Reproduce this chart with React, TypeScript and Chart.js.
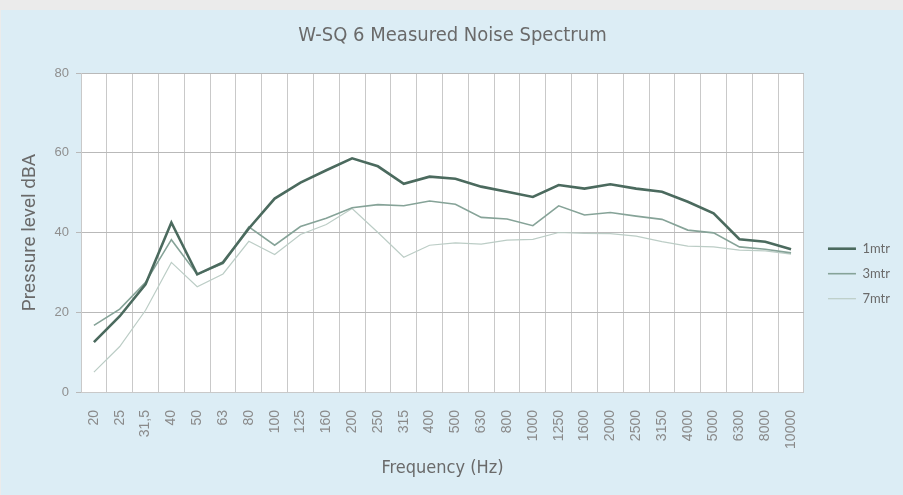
import React, { useEffect, useRef } from "react";
import { Chart, registerables } from "chart.js";

Chart.register(...registerables);

const categories = ["20", "25", "31,5", "40", "50", "63", "80", "100", "125", "160", "200", "250", "315", "400", "500", "630", "800", "1000", "1250", "1600", "2000", "2500", "3150", "4000", "5000", "6300", "8000", "10000"];
const series1mtr = [12.5, 19, 27, 42.5, 29.5, 32.5, 41, 48.5, 52.5, 55.6, 58.6, 56.6, 52.2, 54, 53.5, 51.5, 50.2, 48.9, 51.9, 51, 52.1, 51, 50.2, 47.7, 44.8, 38.3, 37.7, 35.8];
const series3mtr = [16.7, 20.8, 27.5, 38.2, 29.5, 32.2, 41.4, 36.8, 41.5, 43.6, 46.2, 47, 46.7, 47.9, 47.1, 43.8, 43.4, 41.7, 46.7, 44.4, 45, 44.1, 43.3, 40.6, 39.9, 36.4, 35.8, 34.9];
const series7mtr = [5, 11.4, 20.5, 32.5, 26.4, 29.6, 37.8, 34.5, 39.5, 42, 46, 40, 33.8, 36.8, 37.4, 37.1, 38.1, 38.3, 40, 39.8, 39.7, 39.1, 37.7, 36.6, 36.4, 35.6, 35.4, 34.6];
const yTicks = [0, 20, 40, 60, 80];

const narrow = "'Liberation Sans Narrow', 'DejaVu Sans Condensed', 'Roboto', sans-serif";
const tickFont = "'Liberation Sans', Arial, sans-serif";

export default function App() {
  const ref = useRef<HTMLCanvasElement | null>(null);
  useEffect(() => {
    if (!ref.current) return;
    const bgPlugin = {
      id: "plotBg",
      beforeDraw(chart: any) {
        const { ctx, chartArea } = chart;
        ctx.save();
        ctx.fillStyle = "#ffffff";
        ctx.fillRect(chartArea.left, chartArea.top, chartArea.right - chartArea.left, chartArea.bottom - chartArea.top);
        ctx.restore();
      },
    };
    const boxShift = {
      id: "boxShift",
      afterLayout(chart: any) {
        const lg = chart.legend;
        if (lg) {
          lg.left += 12;
          lg.right += 12;
          if (lg.adjustHitBoxes) lg.adjustHitBoxes();
        }
        const tb = chart.titleBlock;
        if (tb) {
          tb.left += 8;
          tb.right += 8;
        }
      },
    };
    const chart = new Chart(ref.current, {
      type: "line",
      data: {
        labels: categories,
        datasets: [
          { label: "1mtr", data: series1mtr, borderColor: "#4b6a5e", backgroundColor: "#4b6a5e", borderWidth: 2.6, pointRadius: 0, tension: 0 },
          { label: "3mtr", data: series3mtr, borderColor: "#86a398", backgroundColor: "#86a398", borderWidth: 1.6, pointRadius: 0, tension: 0 },
          { label: "7mtr", data: series7mtr, borderColor: "#bccdc6", backgroundColor: "#bccdc6", borderWidth: 1.2, pointRadius: 0, tension: 0 },
        ],
      },
      options: {
        responsive: false,
        animation: false,
        layout: { padding: { top: 0, right: 15, bottom: 0, left: 0 } },
        plugins: {
          title: {
            display: true,
            text: "W-SQ 6 Measured Noise Spectrum",
            color: "#6a6a6a",
            font: { family: narrow, size: 20, weight: "normal" },
            padding: { top: 14, bottom: 25 },
          },
          legend: {
            position: "right",
            align: "center",
            title: { display: true, text: "", padding: { top: 28, bottom: 0 } },
            labels: {
              usePointStyle: true,
              pointStyle: "line",
              pointStyleWidth: 28,
              boxHeight: 11,
              padding: 12,
              color: "#6a6a6a",
              font: { family: "Lato, 'Open Sans', sans-serif", size: 13 },
            },
          },
          tooltip: { enabled: false },
        },
        scales: {
          x: {
            offset: true,
            grid: { offset: true, color: "#c9c9c9", lineWidth: 1, drawTicks: false },
            border: { color: "#c9c9c9" },
            ticks: {
              autoSkip: false,
              maxRotation: 90,
              minRotation: 90,
              color: "#8a8a8a",
              padding: 18,
              font: { family: tickFont, size: 14 },
            },
            title: {
              display: true,
              text: "Frequency (Hz)",
              color: "#6a6a6a",
              font: { family: narrow, size: 18 },
              padding: { top: 0, bottom: 16 },
            },
            afterFit(scale: any) {
              scale.height = 103;
            },
          },
          y: {
            min: 0,
            max: 80,
            afterBuildTicks(scale: any) {
              scale.ticks = yTicks.map((v) => ({ value: v }));
            },
            grid: { color: "#b9b9b9", lineWidth: 1, tickLength: 5 },
            border: { color: "#c9c9c9" },
            ticks: {
              color: "#8f8f8f",
              padding: 7,
              font: { family: tickFont, size: 13 },
            },
            title: {
              display: true,
              text: "Pressure level dBA",
              color: "#6a6a6a",
              font: { family: "Roboto, sans-serif", size: 19 },
              padding: { top: 18, bottom: 0 },
            },
            afterFit(scale: any) {
              scale.width = 80;
            },
          },
        },
      },
      plugins: [bgPlugin, boxShift],
    } as any);
    return () => chart.destroy();
  }, []);
  return (
    <div style={{ position: "absolute", left: 0, top: 0, width: 903, height: 495, background: "#ebebeb" }}>
      <div style={{ position: "absolute", left: 1, top: 10, width: 902, height: 485, background: "#dcedf5" }}>
        <canvas ref={ref} width={902} height={485} style={{ display: "block" }} />
      </div>
    </div>
  );
}
